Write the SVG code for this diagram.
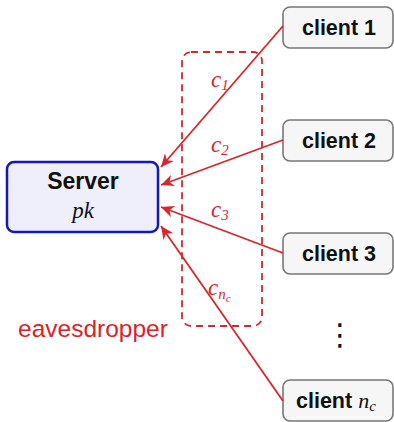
<svg xmlns="http://www.w3.org/2000/svg" width="394" height="422" viewBox="0 0 394 422">
<style>
.client rect{fill:#f6f6f6;stroke:#777;stroke-width:1.6}
.ctext{font-family:"Liberation Sans",Arial,sans-serif;font-weight:bold;font-size:21.5px;fill:#111;text-anchor:middle}
.math{font-family:"Liberation Serif","Times New Roman",serif;font-style:italic}
.lbl{font-family:"Liberation Serif","Times New Roman",serif;font-style:italic;font-size:23px;fill:#d8262c}
.sub{font-size:15px}
.conn line{stroke:#d8262c;stroke-width:1.8}
</style>
<defs>
<marker id="ah" markerUnits="userSpaceOnUse" markerWidth="14" markerHeight="12" refX="13" refY="6" orient="auto" viewBox="0 0 14 12">
<path d="M0,0 L13,6 L0,12 L4,6 z" fill="#d8262c"/>
</marker>
</defs>
<g id="eavesdropper-zone">
<rect x="182" y="52" width="80" height="274" rx="9" fill="none" stroke="#d8262c" stroke-width="1.8" stroke-dasharray="7,5"/>
<text x="18" y="337" font-family="'Liberation Sans',Arial,sans-serif" font-size="24.5" fill="#dd2227">eavesdropper</text>
</g>
<g id="server">
<rect x="7" y="162" width="151" height="70" rx="7" fill="#efeffb" stroke="#1515c8" stroke-width="2.5"/>
<text x="83" y="189" font-family="'Liberation Sans',Arial,sans-serif" font-weight="bold" font-size="23" text-anchor="middle" fill="#111">Server</text>
<text x="83" y="218" class="math" font-size="23" text-anchor="middle" fill="#111">pk</text>
</g>
<g id="client1" class="client">
<rect x="283" y="7" width="110" height="41" rx="7"/>
<text x="339" y="35" class="ctext">client 1</text>
</g>
<g id="client2" class="client">
<rect x="283" y="120" width="110" height="41" rx="7"/>
<text x="339" y="148" class="ctext">client 2</text>
</g>
<g id="client3" class="client">
<rect x="283" y="233" width="110" height="41" rx="7"/>
<text x="339" y="261" class="ctext">client 3</text>
</g>
<g id="clientn" class="client">
<rect x="283" y="380" width="110" height="41" rx="7"/>
<text x="296" y="408" font-family="'Liberation Sans',Arial,sans-serif" font-weight="bold" font-size="21.5" fill="#111">client <tspan class="math" font-weight="normal" font-size="22">n</tspan><tspan class="math" font-weight="normal" font-size="15" dy="3">c</tspan></text>
</g>
<g id="ellipsis">
<text x="340" y="345" font-family="'DejaVu Sans',sans-serif" font-size="30" text-anchor="middle" fill="#111">⋮</text>
</g>
<g id="connectors" class="conn">
<line x1="283" y1="26" x2="161" y2="167" marker-end="url(#ah)"/>
<line x1="283" y1="140" x2="161" y2="185" marker-end="url(#ah)"/>
<line x1="283" y1="253" x2="161" y2="207" marker-end="url(#ah)"/>
<line x1="283" y1="401" x2="161" y2="226" marker-end="url(#ah)"/>
</g>
<g id="labels">
<text x="211" y="87" class="lbl">c<tspan class="sub" dy="3">1</tspan></text>
<text x="211" y="152" class="lbl">c<tspan class="sub" dy="3">2</tspan></text>
<text x="211" y="217" class="lbl">c<tspan class="sub" dy="3">3</tspan></text>
<text x="208" y="295" class="lbl">c<tspan class="sub" dy="4">n</tspan><tspan font-size="11" dy="3">c</tspan></text>
</g>
</svg>
